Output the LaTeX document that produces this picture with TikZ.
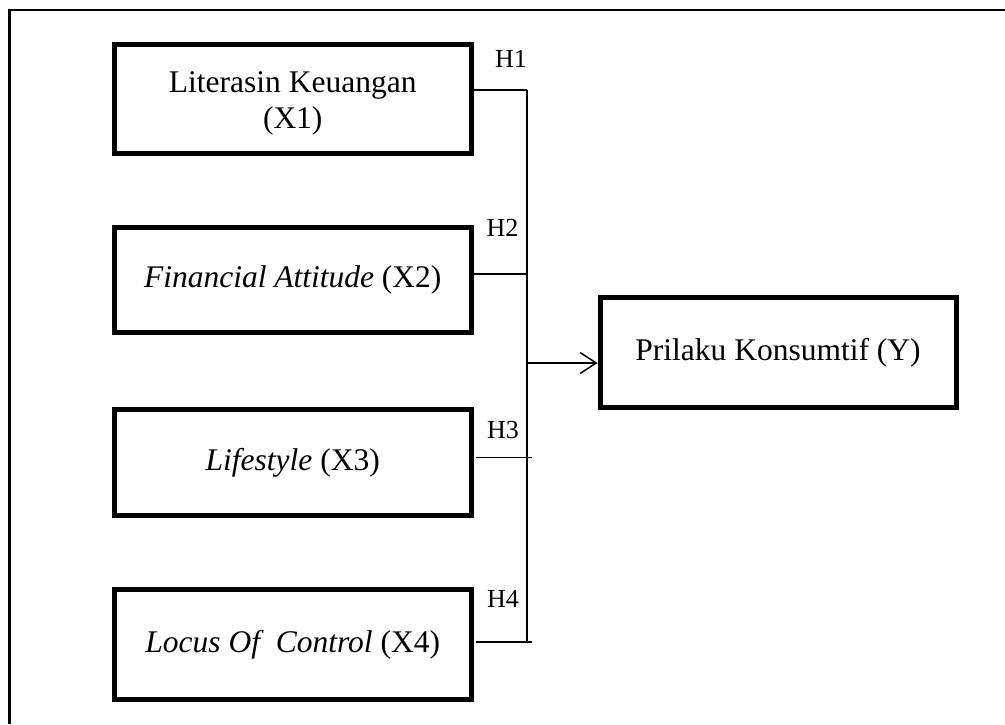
\documentclass[tikz,border=0pt]{standalone}
\usepackage{fontspec}
\setmainfont{Liberation Serif}
\usetikzlibrary{arrows.meta}
\begin{document}
\begin{tikzpicture}[x=1pt,y=-1pt,
  varbox/.style={draw,line width=5pt,rectangle,inner sep=0pt,align=center,
    font=\fontsize{31.5}{36.5}\selectfont},
  boxtext/.style={inner sep=0pt,align=center,font=\fontsize{31.5}{36}\selectfont},
  link/.style={line width=1.5pt},
  hlabel/.style={inner sep=0pt,font=\fontsize{26}{30}\selectfont},
  frame/.style={line width=2.5pt}]
\useasboundingbox (0,0) rectangle (1005,724);
% frame (left and top edges visible)
\draw[frame] (9.5,724) -- (9.5,10) -- (1005,10);
% boxes
\node[varbox,minimum width=356.5pt,minimum height=109pt] (x1) at (292.75,99) {};
\node[boxtext] (x1t) at ([yshift=-4pt]x1.center) {Literasin Keuangan\\(X1)};
\node[varbox,minimum width=356.5pt,minimum height=105pt] (x2) at (292.75,280)
  {\textit{Financial Attitude} (X2)};
\node[varbox,minimum width=356.5pt,minimum height=106pt] (x3) at (292.75,462.5)
  {\textit{Lifestyle} (X3)};
\node[varbox,minimum width=356.5pt,minimum height=110pt] (x4) at (292.75,644.5)
  {\textit{Locus Of\ \ Control} (X4)};
\node[varbox,minimum width=356pt,minimum height=110pt] (y) at (778,352.5)
  {Prilaku Konsumtif (Y)};
% junction coordinates
\coordinate (j1) at (527,90);
\coordinate (j2) at (527,274);
\coordinate (j3) at (532,457.7);
\coordinate (j4) at (532,642);
\coordinate (s3) at (476,457.7);
\coordinate (s4) at (476,642);
\coordinate (top) at (527,90);
\coordinate (bot) at (527,642);
\coordinate (ja) at (527,363);
% connectors
\draw[link] (x1.east |- j1) -- (j1);
\draw[link] (x2.east |- j2) -- (j2);
\draw[link] (s3) -- (j3);
\draw[link] (s4) -- (j4);
\draw[link] (top) -- (bot);
\draw[link,-{Straight Barb[length=16pt,width=21pt,line width=1.5pt]}] (ja) -- (y.west |- ja);
% labels
\node[hlabel] (h1) at (511,58.7) {H1};
\node[hlabel] (h2) at (502.5,228) {H2};
\node[hlabel] (h3) at (503,430.5) {H3};
\node[hlabel] (h4) at (503,598.7) {H4};
\end{tikzpicture}
\end{document}
